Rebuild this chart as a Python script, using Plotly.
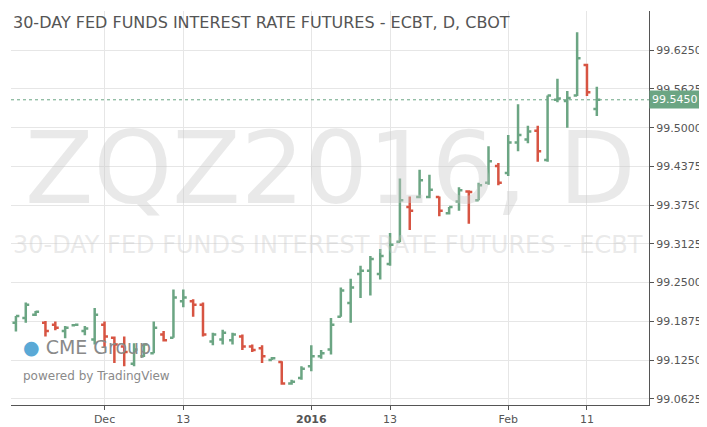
import pandas as pd
import plotly.graph_objects as go
from pandas.tseries.offsets import CustomBusinessDay

# Data:
holidays = ["2015-11-26", "2015-12-25", "2016-01-01", "2016-01-18"]
dates = pd.date_range(end="2016-02-12", periods=60,
                      freq=CustomBusinessDay(holidays=holidays)).strftime("%Y-%m-%d").tolist()

open_ = [99.185, 99.193, 99.198, 99.185, 99.182, 99.172, 99.181, 99.172, 99.158, 99.182,
         99.161, 99.147, 99.119, 99.131, 99.136, 99.166, 99.161, 99.220, 99.220, 99.214,
         99.155, 99.158, 99.157, 99.163, 99.147, 99.144, 99.125, 99.122, 99.087, 99.096,
         99.115, 99.131, 99.142, 99.195, 99.217, 99.264, 99.269, 99.264, 99.280, 99.316,
         99.372, 99.388, 99.388, 99.388, 99.362, 99.381, 99.397, 99.383, 99.411, 99.438,
         99.427, 99.476, 99.481, 99.495, 99.448, 99.545, 99.543, 99.552, 99.601, 99.530]
high = [99.196, 99.218, 99.204, 99.188, 99.187, 99.180, 99.182, 99.180, 99.209, 99.187,
        99.163, 99.163, 99.152, 99.152, 99.187, 99.172, 99.239, 99.239, 99.223, 99.218,
        99.169, 99.174, 99.169, 99.166, 99.150, 99.149, 99.130, 99.123, 99.093, 99.115,
        99.149, 99.141, 99.193, 99.242, 99.256, 99.277, 99.293, 99.304, 99.330, 99.418,
        99.389, 99.432, 99.424, 99.389, 99.372, 99.404, 99.399, 99.411, 99.470, 99.443,
        99.488, 99.538, 99.503, 99.503, 99.552, 99.579, 99.559, 99.654, 99.603, 99.566]
low = [99.171, 99.185, 99.196, 99.163, 99.173, 99.160, 99.180, 99.165, 99.150, 99.146,
       99.120, 99.115, 99.115, 99.130, 99.136, 99.155, 99.161, 99.210, 99.195, 99.163,
       99.149, 99.150, 99.150, 99.141, 99.138, 99.120, 99.125, 99.085, 99.085, 99.093,
       99.107, 99.127, 99.134, 99.195, 99.185, 99.225, 99.229, 99.255, 99.277, 99.315,
       99.335, 99.386, 99.386, 99.357, 99.360, 99.366, 99.345, 99.383, 99.408, 99.407,
       99.422, 99.462, 99.475, 99.445, 99.445, 99.541, 99.500, 99.551, 99.551, 99.519]
close = [99.196, 99.214, 99.203, 99.172, 99.177, 99.177, 99.182, 99.176, 99.198, 99.163,
         99.150, 99.138, 99.142, 99.150, 99.177, 99.157, 99.226, 99.226, 99.214, 99.166,
         99.166, 99.169, 99.166, 99.147, 99.141, 99.131, 99.128, 99.087, 99.090, 99.111,
         99.131, 99.136, 99.182, 99.237, 99.242, 99.269, 99.288, 99.293, 99.311, 99.383,
         99.366, 99.415, 99.400, 99.366, 99.372, 99.399, 99.396, 99.407, 99.446, 99.411,
         99.476, 99.488, 99.494, 99.462, 99.552, 99.547, 99.548, 99.612, 99.557, 99.545]

last_price = 99.545
y_ticks = [99.0625, 99.125, 99.1875, 99.25, 99.3125, 99.375, 99.4375, 99.5, 99.5625, 99.625]
x_tick_dates = ["2015-12-01", "2015-12-11", "2015-12-31", "2016-01-13", "2016-02-01", "2016-02-11"]
x_tick_text = ["Dec", "13", "<b>2016</b>", "13", "Feb", "11"]

green = "#6BA583"
red = "#D75442"

fig = go.Figure(
    go.Ohlc(
        x=dates, open=open_, high=high, low=low, close=close,
        increasing=dict(line=dict(color=green, width=2.5)),
        decreasing=dict(line=dict(color=red, width=2.5)),
        tickwidth=0.35,
    )
)

fig.add_hline(y=last_price, line=dict(color=green, width=1, dash="dot"))

# Watermarks and titles
fig.add_annotation(x=0.5, y=0.6, xref="paper", yref="paper", text="ZQZ2016, D",
                   showarrow=False, font=dict(size=100, color="rgba(200,200,200,0.4)",
                                              family="DejaVu Sans"))
fig.add_annotation(x=0.0, y=0.405, xref="paper", yref="paper", xanchor="left",
                   text="30-DAY FED FUNDS INTEREST RATE FUTURES - ECBT",
                   showarrow=False, font=dict(size=24, color="rgba(200,200,200,0.4)",
                                              family="DejaVu Sans"))
fig.add_annotation(x=0.0, y=1.0, xref="paper", yref="paper", xanchor="left", yanchor="top",
                   text="30-DAY FED FUNDS INTEREST RATE FUTURES - ECBT, D, CBOT",
                   showarrow=False, font=dict(size=16, color="#555555", family="DejaVu Sans"))
fig.add_annotation(x=0.015, y=0.115, xref="paper", yref="paper", xanchor="left",
                   text="<span style='color:#5aa9d6'>●</span> CME Group",
                   showarrow=False, font=dict(size=19, color="#8a8a8a", family="DejaVu Sans"))
fig.add_annotation(x=0.015, y=0.05, xref="paper", yref="paper", xanchor="left",
                   text="powered by TradingView",
                   showarrow=False, font=dict(size=12, color="#8a8a8a", family="DejaVu Sans"))
fig.add_annotation(x=1.0, y=last_price, xref="paper", yref="y", xanchor="left",
                   text="99.5450", showarrow=False, bgcolor=green, borderpad=2,
                   font=dict(size=11, color="white", family="DejaVu Sans"))

fig.update_layout(
    width=707, height=427,
    margin=dict(l=3, r=66, t=3, b=30),
    plot_bgcolor="white", paper_bgcolor="white",
    showlegend=False,
    font=dict(family="DejaVu Sans", size=11, color="#555555"),
)
fig.update_xaxes(
    type="category", rangeslider_visible=False, range=[-0.5, 64.3],
    tickvals=x_tick_dates, ticktext=x_tick_text,
    showgrid=True, gridcolor="#e6e6e6", showline=True, linecolor="#555555",
    ticks="outside", ticklen=4, tickcolor="#555555",
)
fig.update_yaxes(
    side="right", range=[99.0524, 99.6883], tickvals=y_ticks, tickformat=".4f",
    showgrid=True, gridcolor="#e6e6e6", showline=True, linecolor="#555555",
    ticks="outside", ticklen=4, tickcolor="#555555", zeroline=False,
)

fig.write_html("out.html")
